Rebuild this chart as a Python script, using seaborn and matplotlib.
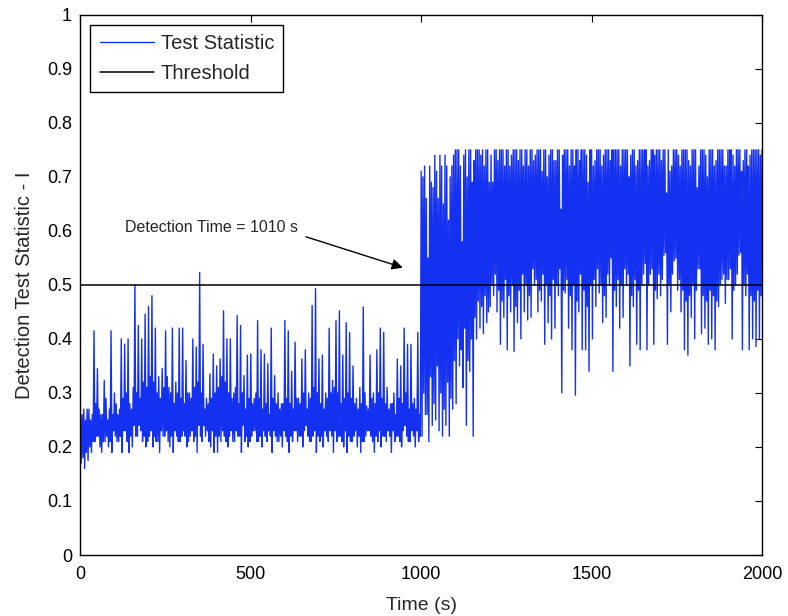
import numpy as np
import pandas as pd
import matplotlib
matplotlib.use("Agg")
import matplotlib.pyplot as plt
import seaborn as sns

# ---------------- data ----------------
# spike tops, every 10 s, t = 0 .. 1000
highs_pre = [0.27, 0.27, 0.27, 0.25, 0.415, 0.345, 0.26, 0.323, 0.25, 0.415,
             0.30, 0.26, 0.40, 0.39, 0.40, 0.27, 0.50, 0.425, 0.40, 0.446,
             0.46, 0.48, 0.42, 0.33, 0.345, 0.415, 0.31, 0.42, 0.32, 0.42,
             0.42, 0.36, 0.30, 0.40, 0.385, 0.523, 0.39, 0.29, 0.335, 0.372,
             0.35, 0.363, 0.452, 0.40, 0.40, 0.30, 0.443, 0.425, 0.332, 0.37,
             0.372, 0.29, 0.434, 0.38, 0.372, 0.354, 0.42, 0.332, 0.30, 0.28,
             0.434, 0.415, 0.34, 0.394, 0.29, 0.363, 0.38, 0.30, 0.462, 0.493,
             0.363, 0.37, 0.30, 0.42, 0.323, 0.434, 0.452, 0.37, 0.43, 0.412,
             0.35, 0.29, 0.31, 0.459, 0.276, 0.37, 0.30, 0.38, 0.42, 0.412,
             0.31, 0.28, 0.30, 0.363, 0.35, 0.42, 0.39, 0.39, 0.29, 0.412,
             0.71]
# spike tops, every 10 s, t = 1010 .. 2000
highs_post = [0.72, 0.55, 0.69, 0.74, 0.66, 0.72, 0.74, 0.62, 0.72, 0.75,
              0.75, 0.58, 0.75, 0.75, 0.69, 0.75, 0.75, 0.75, 0.75, 0.69,
              0.69, 0.75, 0.75, 0.75, 0.75, 0.72, 0.75, 0.75, 0.75, 0.72,
              0.75, 0.75, 0.73, 0.75, 0.75, 0.75, 0.70, 0.75, 0.73, 0.75,
              0.64, 0.75, 0.75, 0.75, 0.72, 0.75, 0.75, 0.75, 0.69, 0.75,
              0.73, 0.75, 0.72, 0.75, 0.75, 0.75, 0.75, 0.75, 0.75, 0.75,
              0.70, 0.75, 0.72, 0.75, 0.75, 0.75, 0.73, 0.75, 0.75, 0.75,
              0.75, 0.67, 0.71, 0.75, 0.75, 0.72, 0.75, 0.75, 0.72, 0.75,
              0.68, 0.75, 0.75, 0.70, 0.75, 0.72, 0.75, 0.75, 0.72, 0.75,
              0.75, 0.72, 0.75, 0.71, 0.75, 0.72, 0.75, 0.75, 0.75, 0.75]
# spike bottoms, every 10 s, t = 2.5 .. 992.5
lows_pre = [0.17, 0.16, 0.175, 0.19, 0.21, 0.22, 0.19, 0.21, 0.20, 0.19,
            0.22, 0.21, 0.19, 0.23, 0.19, 0.20, 0.22, 0.24, 0.21, 0.20,
            0.22, 0.20, 0.21, 0.19, 0.22, 0.23, 0.20, 0.19, 0.22, 0.21,
            0.23, 0.20, 0.22, 0.21, 0.19, 0.22, 0.24, 0.23, 0.20, 0.19,
            0.19, 0.21, 0.22, 0.20, 0.23, 0.21, 0.22, 0.19, 0.21, 0.20,
            0.22, 0.23, 0.21, 0.20, 0.22, 0.23, 0.19, 0.22, 0.21, 0.20,
            0.22, 0.19, 0.21, 0.23, 0.22, 0.20, 0.24, 0.21, 0.22, 0.19,
            0.21, 0.20, 0.22, 0.23, 0.19, 0.21, 0.22, 0.20, 0.19, 0.21,
            0.22, 0.20, 0.19, 0.21, 0.23, 0.22, 0.19, 0.21, 0.20, 0.22,
            0.23, 0.19, 0.21, 0.22, 0.20, 0.24, 0.21, 0.23, 0.20, 0.21]
# spike bottoms, every 10 s, t = 1002.5 .. 1992.5
lows_post = [0.22, 0.26, 0.21, 0.24, 0.25, 0.23, 0.22, 0.24, 0.22, 0.27,
             0.28, 0.35, 0.31, 0.24, 0.34, 0.22, 0.40, 0.42, 0.41, 0.43,
             0.46, 0.48, 0.45, 0.39, 0.44, 0.38, 0.45, 0.377, 0.43, 0.40,
             0.45, 0.435, 0.44, 0.50, 0.45, 0.47, 0.39, 0.43, 0.40, 0.42,
             0.48, 0.30, 0.485, 0.42, 0.38, 0.296, 0.45, 0.38, 0.38, 0.34,
             0.40, 0.46, 0.485, 0.43, 0.44, 0.50, 0.34, 0.46, 0.42, 0.44,
             0.50, 0.35, 0.46, 0.39, 0.38, 0.52, 0.38, 0.52, 0.39, 0.475,
             0.48, 0.555, 0.39, 0.45, 0.545, 0.49, 0.45, 0.38, 0.37, 0.44,
             0.40, 0.53, 0.41, 0.42, 0.39, 0.40, 0.38, 0.46, 0.51, 0.466,
             0.51, 0.40, 0.50, 0.555, 0.38, 0.48, 0.38, 0.40, 0.386, 0.40]
# dense-band tops, every 10 s, t = 5 .. 995
band_pre = [0.26, 0.25, 0.27, 0.26, 0.28, 0.27, 0.26, 0.29, 0.27, 0.26,
            0.28, 0.27, 0.29, 0.30, 0.28, 0.31, 0.30, 0.29, 0.32, 0.31,
            0.33, 0.32, 0.30, 0.29, 0.31, 0.33, 0.30, 0.28, 0.30, 0.29,
            0.28, 0.30, 0.29, 0.31, 0.32, 0.30, 0.27, 0.28, 0.29, 0.30,
            0.31, 0.33, 0.32, 0.30, 0.29, 0.31, 0.28, 0.30, 0.27, 0.29,
            0.28, 0.30, 0.29, 0.27, 0.28, 0.26, 0.29, 0.28, 0.27, 0.28,
            0.29, 0.28, 0.27, 0.29, 0.28, 0.30, 0.27, 0.29, 0.31, 0.30,
            0.28, 0.27, 0.29, 0.30, 0.31, 0.30, 0.28, 0.29, 0.30, 0.29,
            0.28, 0.27, 0.28, 0.30, 0.27, 0.29, 0.28, 0.30, 0.29, 0.28,
            0.27, 0.28, 0.26, 0.29, 0.28, 0.30, 0.27, 0.28, 0.27, 0.26]
# dense-band tops, every 10 s, t = 1005 .. 1995
band_post = [0.70, 0.66, 0.72, 0.68, 0.71, 0.74, 0.65, 0.72, 0.70, 0.74,
             0.75, 0.72, 0.74, 0.70, 0.75, 0.73, 0.75, 0.74, 0.72, 0.75,
             0.74, 0.75, 0.73, 0.75, 0.72, 0.75, 0.74, 0.75, 0.73, 0.75,
             0.75, 0.72, 0.75, 0.74, 0.75, 0.71, 0.75, 0.74, 0.75, 0.73,
             0.75, 0.74, 0.75, 0.72, 0.75, 0.75, 0.73, 0.75, 0.74, 0.75,
             0.72, 0.75, 0.75, 0.74, 0.75, 0.73, 0.75, 0.75, 0.72, 0.75,
             0.75, 0.74, 0.75, 0.73, 0.75, 0.75, 0.72, 0.75, 0.74, 0.75,
             0.73, 0.75, 0.75, 0.72, 0.75, 0.74, 0.75, 0.75, 0.73, 0.75,
             0.75, 0.72, 0.75, 0.74, 0.75, 0.75, 0.73, 0.75, 0.75, 0.72,
             0.75, 0.74, 0.75, 0.75, 0.73, 0.75, 0.74, 0.75, 0.75, 0.74]
# dense-band bottoms, every 10 s, t = 7.5 .. 997.5
low2_pre = [0.18, 0.19, 0.20, 0.21, 0.22, 0.20, 0.21, 0.22, 0.21, 0.23,
            0.21, 0.22, 0.23, 0.21, 0.22, 0.24, 0.22, 0.23, 0.22, 0.21,
            0.23, 0.22, 0.21, 0.23, 0.22, 0.21, 0.22, 0.23, 0.21, 0.22,
            0.22, 0.21, 0.23, 0.22, 0.24, 0.21, 0.22, 0.21, 0.23, 0.22,
            0.22, 0.23, 0.21, 0.22, 0.21, 0.23, 0.22, 0.24, 0.22, 0.21,
            0.23, 0.21, 0.22, 0.23, 0.21, 0.22, 0.23, 0.21, 0.22, 0.23,
            0.21, 0.22, 0.23, 0.21, 0.22, 0.23, 0.22, 0.21, 0.23, 0.22,
            0.22, 0.23, 0.21, 0.22, 0.23, 0.22, 0.21, 0.23, 0.22, 0.21,
            0.23, 0.22, 0.21, 0.22, 0.23, 0.21, 0.22, 0.23, 0.22, 0.21,
            0.22, 0.23, 0.22, 0.21, 0.23, 0.22, 0.21, 0.22, 0.23, 0.22]
# dense-band bottoms, every 10 s, t = 1007.5 .. 1997.5
low2_post = [0.30, 0.26, 0.33, 0.28, 0.35, 0.30, 0.27, 0.32, 0.29, 0.36,
             0.40, 0.38, 0.42, 0.36, 0.40, 0.44, 0.47, 0.46, 0.48, 0.45,
             0.50, 0.52, 0.49, 0.47, 0.51, 0.48, 0.50, 0.46, 0.49, 0.52,
             0.50, 0.48, 0.53, 0.51, 0.49, 0.52, 0.50, 0.48, 0.51, 0.50,
             0.53, 0.49, 0.51, 0.48, 0.50, 0.47, 0.52, 0.49, 0.46, 0.50,
             0.51, 0.53, 0.50, 0.48, 0.52, 0.55, 0.49, 0.51, 0.50, 0.53,
             0.52, 0.48, 0.51, 0.49, 0.50, 0.54, 0.50, 0.53, 0.49, 0.52,
             0.51, 0.56, 0.50, 0.52, 0.55, 0.51, 0.49, 0.47, 0.48, 0.50,
             0.49, 0.53, 0.48, 0.47, 0.49, 0.48, 0.47, 0.50, 0.52, 0.51,
             0.53, 0.49, 0.52, 0.56, 0.50, 0.52, 0.48, 0.47, 0.49, 0.48]

threshold = 0.5
detection_time = 1010
xticks = [0, 500, 1000, 1500, 2000]
xtick_labels = ["0", "500", "1000", "1500", "2000"]
yticks = [0, 0.1, 0.2, 0.3, 0.4, 0.5, 0.6, 0.7, 0.8, 0.9, 1.0]
ytick_labels = ["0", "0.1", "0.2", "0.3", "0.4", "0.5", "0.6", "0.7", "0.8", "0.9", "1"]

# ---------------- build series ----------------
times = np.concatenate([np.arange(0, 2001, 10),        # highs
                        np.arange(2.5, 2000, 10),      # lows
                        np.arange(5, 2000, 10),        # band tops
                        np.arange(7.5, 2000, 10)])     # band bottoms
vals = np.concatenate([highs_pre + highs_post, lows_pre + lows_post,
                       band_pre + band_post, low2_pre + low2_post])
df = pd.DataFrame({"Time": times, "Value": vals}).sort_values("Time")
df_thr = pd.DataFrame({"Time": [0, 2000], "Value": [threshold, threshold]})

# ---------------- plot ----------------
sns.set_style("white")
plt.rcParams["font.family"] = ["Liberation Sans", "DejaVu Sans"]

fig = plt.figure(figsize=(7.88, 6.16), dpi=100)
ax = fig.add_axes([0.102, 0.099, 0.865, 0.877])

blue = "#1430f0"
sns.lineplot(data=df, x="Time", y="Value", ax=ax, color=blue, lw=1.0,
             estimator=None, sort=False, label="Test Statistic")
sns.lineplot(data=df_thr, x="Time", y="Value", ax=ax, color="black", lw=1.1,
             estimator=None, label="Threshold")

ax.set_xlim(0, 2000)
ax.set_ylim(0, 1)
ax.set_xticks(xticks)
ax.set_xticklabels(xtick_labels)
ax.set_yticks(yticks)
ax.set_yticklabels(ytick_labels)
ax.tick_params(direction="in", length=5, width=0.8, top=True, right=True,
               labelsize=13, colors="black")
ax.tick_params(axis="x", pad=8)
ax.tick_params(axis="y", pad=6)
for s in ax.spines.values():
    s.set_color("black")
    s.set_linewidth(1.0)

ax.set_xlabel("Time (s)", fontsize=14, labelpad=10)
ax.set_ylabel("Detection Test Statistic - I", fontsize=14.5, labelpad=9)

ax.text(130, 0.6056, f"Detection Time = {detection_time} s",
        fontsize=11.5, va="center", ha="left")
ax.annotate("", xy=(946, 0.532), xytext=(662, 0.589),
            arrowprops=dict(arrowstyle="-|>", color="black", lw=1.0,
                            mutation_scale=16, shrinkA=0, shrinkB=0))

leg = ax.legend(loc="upper left", fontsize=14.5, frameon=True, fancybox=False,
                edgecolor="black", framealpha=1, handlelength=2.7,
                labelspacing=0.55, borderaxespad=0.5, handletextpad=0.35,
                borderpad=0.45)
leg.get_frame().set_linewidth(1.0)

fig.savefig("out.png", dpi=100)
